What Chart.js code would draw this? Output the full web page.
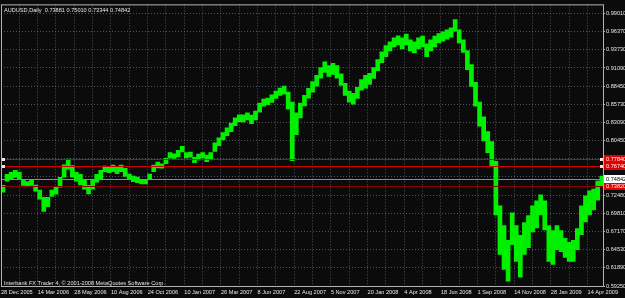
<!DOCTYPE html>
<html>
<head>
<meta charset="utf-8">
<script src="https://cdn.jsdelivr.net/npm/chart.js@4.4.1/dist/chart.umd.min.js"></script>
<style>
html, body { margin: 0; padding: 0; background: #0b0b0b; }
</style>
</head>
<body>
<canvas id="myChart" width="625" height="298"></canvas>
<script>
const symbolName = 'AUDUSD,Daily';
const lastBar = [0.73881, 0.75010, 0.73344, 0.74842];
const copyright = 'Interbank FX Trader 4, \u00a9 2001-2008 MetaQuotes Software Corp.';

const dateLabels = [
    '28 Dec 2005', '14 Mar 2006', '28 May 2006', '10 Aug 2006', '24 Oct 2006',
    '10 Jan 2007', '26 Mar 2007', '8 Jun 2007', '22 Aug 2007', '5 Nov 2007',
    '20 Jan 2008', '4 Apr 2008', '18 Jun 2008', '1 Sep 2008', '14 Nov 2008',
    '28 Jan 2009', '14 Apr 2009'
];
const samplesPerLabel = 9;

const priceTicks = [
    0.99010, 0.96370, 0.93730, 0.91090, 0.88450, 0.85730, 0.83090, 0.80450,
    0.77810, 0.75170, 0.72480, 0.69810, 0.67170, 0.64530, 0.61890, 0.59250
];

// one bar per sample (about a week and a half of daily bars)
const highs = [
    0.7400, 0.7560, 0.7590, 0.7620, 0.7590, 0.7480, 0.7455, 0.7480, 0.7405, 0.7330,
    0.7225, 0.7225, 0.7330, 0.7375, 0.7515, 0.7700, 0.7785, 0.7690, 0.7590, 0.7560,
    0.7475, 0.7400, 0.7475, 0.7560, 0.7620, 0.7680, 0.7665, 0.7695, 0.7665, 0.7695,
    0.7650, 0.7565, 0.7535, 0.7520, 0.7485, 0.7485, 0.7565, 0.7695, 0.7740, 0.7715,
    0.7795, 0.7880, 0.7860, 0.7910, 0.7970, 0.7880, 0.7885, 0.7810, 0.7855, 0.7880,
    0.7840, 0.7880, 0.8020, 0.8095, 0.8170, 0.8240, 0.8310, 0.8385, 0.8430, 0.8430,
    0.8460, 0.8425, 0.8485, 0.8600, 0.8660, 0.8675, 0.8720, 0.8775, 0.8820, 0.8850,
    0.8761, 0.8617, 0.8460, 0.8600, 0.8715, 0.8815, 0.8915, 0.9005, 0.9120, 0.9205,
    0.9150, 0.9180, 0.9150, 0.9030, 0.8890, 0.8775, 0.8745, 0.8830, 0.8945, 0.9005,
    0.9035, 0.9120, 0.9235, 0.9350, 0.9440, 0.9495, 0.9555, 0.9585, 0.9555, 0.9610,
    0.9525, 0.9495, 0.9555, 0.9580, 0.9465, 0.9525, 0.9580, 0.9615, 0.9640, 0.9670,
    0.9700, 0.9820, 0.9670, 0.9525, 0.9367, 0.9165, 0.8905, 0.8617, 0.8400, 0.8184,
    0.8039, 0.7751, 0.7101, 0.6813, 0.6596, 0.7000, 0.6813, 0.6668, 0.6856, 0.6957,
    0.7101, 0.7173, 0.7260, 0.7173, 0.6813, 0.6740, 0.6813, 0.6740, 0.6625, 0.6567,
    0.6596, 0.6769, 0.7101, 0.7245, 0.7318, 0.7346, 0.7462, 0.7534
];
const lows = [
    0.7290, 0.7450, 0.7480, 0.7505, 0.7480, 0.7390, 0.7370, 0.7390, 0.7305, 0.7190,
    0.7010, 0.7080, 0.7230, 0.7260, 0.7365, 0.7510, 0.7625, 0.7510, 0.7450, 0.7395,
    0.7335, 0.7265, 0.7335, 0.7435, 0.7480, 0.7590, 0.7575, 0.7590, 0.7560, 0.7590,
    0.7520, 0.7475, 0.7445, 0.7430, 0.7410, 0.7410, 0.7475, 0.7590, 0.7645, 0.7640,
    0.7705, 0.7790, 0.7785, 0.7805, 0.7880, 0.7790, 0.7800, 0.7720, 0.7760, 0.7790,
    0.7735, 0.7765, 0.7885, 0.7970, 0.8055, 0.8115, 0.8175, 0.8260, 0.8315, 0.8315,
    0.8345, 0.8290, 0.8345, 0.8460, 0.8545, 0.8570, 0.8600, 0.8660, 0.8705, 0.8720,
    0.8501, 0.7751, 0.8130, 0.8375, 0.8550, 0.8665, 0.8750, 0.8840, 0.8955, 0.9040,
    0.8980, 0.9010, 0.8955, 0.8850, 0.8705, 0.8605, 0.8575, 0.8660, 0.8780, 0.8810,
    0.8865, 0.8950, 0.9065, 0.9180, 0.9270, 0.9355, 0.9410, 0.9440, 0.9385, 0.9440,
    0.9355, 0.9325, 0.9385, 0.9410, 0.9270, 0.9355, 0.9410, 0.9470, 0.9495, 0.9525,
    0.9555, 0.9640, 0.9470, 0.9330, 0.9078, 0.8833, 0.8545, 0.8256, 0.8039, 0.7866,
    0.7678, 0.6957, 0.6380, 0.6163, 0.5990, 0.6524, 0.6279, 0.6048, 0.6380, 0.6481,
    0.6711, 0.6769, 0.6957, 0.6740, 0.6279, 0.6235, 0.6452, 0.6423, 0.6336, 0.6279,
    0.6279, 0.6452, 0.6668, 0.6856, 0.6957, 0.7030, 0.7173, 0.7375
];

// horizontal line objects drawn on the chart
const levelPrices = [0.77840, 0.76740, 0.73820];
const levelColors = ['#d00000', '#d00000', '#8a0000'];

const bgColor = '#0b0b0b';
const gridColor = 'rgba(119,136,153,0.6)';
const textColor = '#e6e6e6';
const fontFamily = "'Liberation Sans', Arial, sans-serif";
const fontSize = 5.6;

Chart.defaults.font.family = fontFamily;
Chart.defaults.font.size = fontSize;
Chart.defaults.color = textColor;

const bars = highs.map((h, i) => ({ x: i + 0.5, y: [lows[i], h] }));

const mtOverlay = {
    id: 'mtOverlay',
    beforeDraw(chart) {
        const ctx = chart.ctx;
        ctx.save();
        ctx.fillStyle = bgColor;
        ctx.fillRect(0, 0, chart.width, chart.height);
        ctx.restore();
    },
    afterDatasetsDraw(chart) {
        const ctx = chart.ctx;
        const a = chart.chartArea;
        const ys = chart.scales.y;
        ctx.save();
        ctx.lineWidth = 1;
        // bid line
        let yb = Math.round(ys.getPixelForValue(lastBar[3])) + 0.5;
        ctx.strokeStyle = '#8c8c8c';
        ctx.beginPath();
        ctx.moveTo(a.left, yb);
        ctx.lineTo(a.right, yb);
        ctx.stroke();
        levelPrices.forEach((p, i) => {
            const y = Math.round(ys.getPixelForValue(p)) + 0.5;
            ctx.strokeStyle = levelColors[i];
            ctx.beginPath();
            ctx.moveTo(a.left, y);
            ctx.lineTo(a.right, y);
            ctx.stroke();
        });
        ctx.restore();
    },
    afterDraw(chart) {
        const ctx = chart.ctx;
        const a = chart.chartArea;
        const ys = chart.scales.y;
        ctx.save();
        // frame
        ctx.strokeStyle = '#b4b4b4';
        ctx.lineWidth = 1;
        ctx.strokeRect(a.left + 0.5, a.top + 0.5, a.right - a.left, a.bottom - a.top);

        ctx.font = fontSize + 'px ' + fontFamily;
        ctx.textBaseline = 'middle';
        ctx.textAlign = 'left';

        // price labels for the lines
        levelPrices.forEach((p, i) => {
            const y = Math.round(ys.getPixelForValue(p));
            ctx.fillStyle = '#e00000';
            ctx.fillRect(a.right + 1, y - 4, chart.width - a.right, 8);
            ctx.fillStyle = '#ffffff';
            ctx.fillText(p.toFixed(5), a.right + 3, y + 0.5);
            if (i < 2) {
                ctx.fillStyle = '#ffe0e0';
                ctx.fillRect(a.left + 1, y - 1, 3, 3);
                ctx.fillRect(a.right - 3, y - 1, 3, 3);
            }
        });
        const yb = Math.round(ys.getPixelForValue(lastBar[3]));
        ctx.fillStyle = '#ffffff';
        ctx.fillRect(a.right + 1, yb - 4, chart.width - a.right, 8);
        ctx.fillStyle = '#000000';
        ctx.fillText(lastBar[3].toFixed(5), a.right + 3, yb + 0.5);

        // title and copyright
        ctx.fillStyle = textColor;
        ctx.fillText(symbolName + '  ' + lastBar.map(v => v.toFixed(5)).join(' '), a.left + 3, a.top + 6);
        ctx.fillText(copyright, a.left + 3, a.bottom - 3);
        ctx.restore();
    }
};

new Chart(document.getElementById('myChart'), {
    type: 'bar',
    data: {
        datasets: [{
            data: bars,
            backgroundColor: '#00f000',
            borderWidth: 0,
            barPercentage: 1.15,
            categoryPercentage: 1,
            grouped: false
        }]
    },
    options: {
        responsive: false,
        animation: false,
        layout: { padding: { left: 1, top: 1, right: 0, bottom: 0 } },
        plugins: { legend: { display: false }, tooltip: { enabled: false } },
        scales: {
            x: {
                type: 'linear',
                offset: false,
                min: 0,
                max: 147.8,
                afterFit: s => { s.height = 12; },
                afterBuildTicks: s => {
                    const t = [];
                    for (let v = 0; v <= s.max; v += samplesPerLabel / 2) t.push({ value: v });
                    s.ticks = t;
                },
                ticks: {
                    autoSkip: false,
                    maxRotation: 0,
                    align: 'start',
                    padding: 1,
                    callback: (v, i) => (i % 2 === 0 ? dateLabels[i / 2] : '')
                },
                grid: { offset: false, color: gridColor, tickLength: 2, tickColor: 'transparent' },
                border: { display: false, dash: [1, 2] }
            },
            y: {
                type: 'linear',
                position: 'right',
                min: 0.5925,
                max: 1.0038,
                afterFit: s => { s.width = 22; },
                afterBuildTicks: s => { s.ticks = priceTicks.map(v => ({ value: v })); },
                ticks: {
                    autoSkip: false,
                    padding: 1,
                    callback: v => v.toFixed(5)
                },
                grid: { color: gridColor, tickLength: 2, tickColor: '#b4b4b4' },
                border: { display: false, dash: [1, 2] }
            }
        }
    },
    plugins: [mtOverlay]
});
</script>
</body>
</html>
